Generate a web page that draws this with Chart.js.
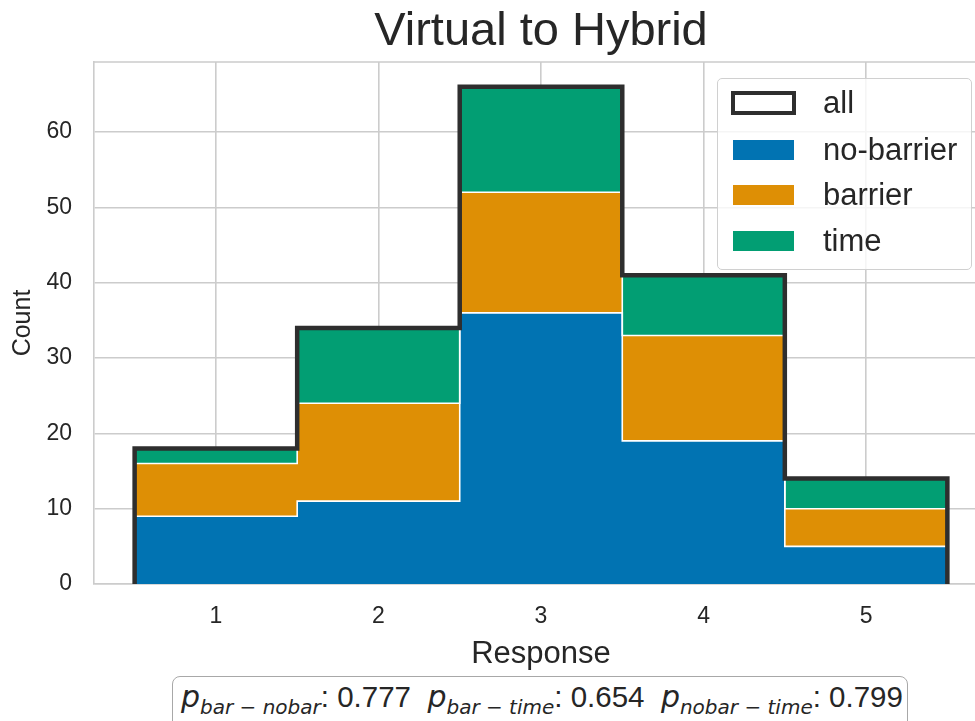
<!DOCTYPE html>
<html>
<head>
<meta charset="utf-8">
<title>Virtual to Hybrid</title>
<script src="https://cdn.jsdelivr.net/npm/chart.js@4.4.1/dist/chart.umd.min.js"></script>
<style>
    html, body { margin: 0 ; padding: 0 ; overflow: hidden ; background: #ffffff ; width: 975px ; height: 721px ; }
    #wrap { position: relative ; width: 1000px ; height: 721px ; }
    #histCanvas { position: absolute ; left: 0 ; top: 0 ; }
    .legend {
        position: absolute ; left: 717px ; top: 78px ; width: 255px ; height: 192px ;
        box-sizing: border-box ; border: 1.3px solid #d0d0d0 ; border-radius: 5px ;
        background: rgba(255,255,255,0.8) ;
        font-family: 'Liberation Sans', Arial, sans-serif ; font-size: 31px ; color: #262626 ;
    }
    .legend .patch { position: absolute ; left: 15px ; width: 61px ; height: 20px ; box-sizing: border-box ; }
    .legend .label { position: absolute ; left: 105px ; height: 40px ; line-height: 40px ; white-space: nowrap ; }
    .pbox {
        position: absolute ; left: 172px ; top: 676px ; width: 736px ; height: 60px ;
        box-sizing: border-box ; border: 1.5px solid #a8a8a8 ; border-radius: 8px ; background: #ffffff ;
        padding-left: 8px ; white-space: nowrap ; line-height: 40px ;
        font-family: 'Liberation Sans', Arial, sans-serif ; font-size: 29.5px ; color: #262626 ;
    }
    .pbox .p { font-family: 'DejaVu Sans', sans-serif ; font-style: italic ; font-size: 30px ; }
    .pbox .sub { font-family: 'DejaVu Sans', sans-serif ; font-style: italic ; font-size: 20px ; vertical-align: -7px ; }
</style>
</head>
<body>
<div id="wrap">
    <canvas id="histCanvas" width="1000" height="721"></canvas>
    <div class="legend" id="legend"></div>
    <div class="pbox" id="pbox"></div>
</div>
<script>
    // ---------------- Data -------------------------------------------------
    const responses  = [ 1, 2, 3, 4, 5 ] ;
    const noBarrier  = [ 9, 11, 36, 19, 5 ] ;
    const barrier    = [ 7, 13, 16, 14, 5 ] ;
    const timeCounts = [ 2, 10, 14,  8, 4 ] ;

    const seriesNames  = [ "no-barrier", "barrier", "time" ] ;
    const seriesColors = [ "#0173b2", "#de8f05", "#029e73" ] ;

    const yTicks = [ 0, 10, 20, 30, 40, 50, 60 ] ;

    const pLabels = [ "bar − nobar", "bar − time", "nobar − time" ] ;
    const pValues = [ "0.777", "0.654", "0.799" ] ;

    // ---------------- Constants --------------------------------------------
    const TEXT_COLOR = "#262626" ;
    const GRID_COLOR = "#cccccc" ;
    const FONT = "'Liberation Sans', Arial, sans-serif" ;

    // ---------------- Helpers ----------------------------------------------
    function cumulate( layers ) {
        var out = [] ;
        var run = responses.map( function() { return 0 ; } ) ;
        layers.forEach( function( layer ) {
            run = run.map( function( v, i ) { return v + layer[i] ; } ) ;
            out.push( run ) ;
        } ) ;
        return out ;
    }

    // step outline: left bin edges hold the value, closing back to zero
    function stepPoints( counts ) {
        var pts = [ { x: responses[0] - 0.5, y: 0 } ] ;
        for( var i = 0 ; i < responses.length ; i++ ) {
            pts.push( { x: responses[i] - 0.5, y: counts[i] } ) ;
        }
        pts.push( { x: responses[ responses.length - 1 ] + 0.5, y: 0 } ) ;
        return pts ;
    }

    const stacks = cumulate( [ noBarrier, barrier, timeCounts ] ) ;
    const totals = stacks[ stacks.length - 1 ] ;

    function getAllDataset() {
        return {
            label           : "all",
            data            : stepPoints( totals ),
            stepped         : true,
            borderColor     : "#2e2e2e",
            borderWidth     : 4.5,
            borderJoinStyle : "miter",
            pointRadius     : 0,
            fill            : false,
            order           : 0,
        } ;
    }

    function getLayerDataset( idx ) {
        return {
            label           : seriesNames[ idx ],
            data            : stepPoints( stacks[ idx ] ),
            stepped         : true,
            borderColor     : "#ffffff",
            borderWidth     : 1.6,
            backgroundColor : seriesColors[ idx ],
            pointRadius     : 0,
            fill            : idx == 0 ? "origin" : "-1",
            order           : 3 - idx,
        } ;
    }

    const topSpine = {
        id : "topSpine",
        beforeDatasetsDraw : function( chart ) {
            var ctx = chart.ctx ;
            var a = chart.chartArea ;
            ctx.save() ;
            ctx.strokeStyle = GRID_COLOR ;
            ctx.lineWidth = 1.6 ;
            ctx.beginPath() ;
            ctx.moveTo( a.left, a.top ) ;
            ctx.lineTo( a.right, a.top ) ;
            ctx.lineTo( a.right, a.bottom ) ;
            ctx.stroke() ;
            ctx.restore() ;
        }
    } ;

    const datasets = [ getLayerDataset( 0 ), getLayerDataset( 1 ), getLayerDataset( 2 ), getAllDataset() ] ;

    const yMax = Math.max.apply( null, totals ) * 1.05 ;

    new Chart( document.getElementById( "histCanvas" ), {
        type : "line",
        data : { datasets : datasets },
        plugins : [ topSpine ],
        options : {
            responsive : false,
            animation : false,
            events : [],
            layout : { padding : { top : 0, right : 12, bottom : 0, left : 0 } },
            plugins : {
                legend : { display : false },
                tooltip : { enabled : false },
                filler : { drawTime : "beforeDatasetsDraw" },
                title : {
                    display : true,
                    text : "Virtual to Hybrid",
                    fullSize : false,
                    color : TEXT_COLOR,
                    font : { family : FONT, size : 47, weight : "normal" },
                    padding : { top : 4, bottom : 1.6 }
                }
            },
            scales : {
                x : {
                    type : "linear",
                    min : responses[0] - 0.75,
                    max : responses[ responses.length - 1 ] + 0.75,
                    afterFit : function( scale ) { scale.height = 137 ; },
                    afterBuildTicks : function( scale ) {
                        scale.ticks = responses.map( function( v ) { return { value : v } ; } ) ;
                    },
                    ticks : {
                        color : TEXT_COLOR,
                        padding : 19,
                        font : { family : FONT, size : 23 }
                    },
                    grid : { color : GRID_COLOR, lineWidth : 1.6, drawTicks : false },
                    border : { color : GRID_COLOR, width : 1.6 },
                    title : {
                        display : true,
                        text : "Response",
                        color : TEXT_COLOR,
                        font : { family : FONT, size : 31 },
                        padding : { top : 0, bottom : 48 }
                    }
                },
                y : {
                    min : 0,
                    max : yMax,
                    afterFit : function( scale ) { scale.width = 94 ; },
                    afterBuildTicks : function( scale ) {
                        scale.ticks = yTicks.map( function( v ) { return { value : v } ; } ) ;
                    },
                    ticks : {
                        color : TEXT_COLOR,
                        padding : 22,
                        font : { family : FONT, size : 23 }
                    },
                    grid : { color : GRID_COLOR, lineWidth : 1.6, drawTicks : false },
                    border : { color : GRID_COLOR, width : 1.6 },
                    title : {
                        display : true,
                        text : "Count",
                        color : TEXT_COLOR,
                        font : { family : FONT, size : 25 },
                        padding : { top : 8, bottom : 0 }
                    }
                }
            }
        }
    } ) ;

    // ---------------- Legend -----------------------------------------------
    const legendRows = [ 24, 71, 116, 162 ] ;
    var legendHtml = '' ;
    legendHtml += '<div class="patch" style="border:4.5px solid #2e2e2e;background:#fff;left:12.75px;width:65.5px;height:24.5px;top:' + ( legendRows[0] - 12.25 ) + 'px"></div>' ;
    legendHtml += '<div class="label" style="top:' + ( legendRows[0] - 20 ) + 'px">all</div>' ;
    seriesNames.forEach( function( name, i ) {
        var c = legendRows[ i + 1 ] ;
        legendHtml += '<div class="patch" style="top:' + ( c - 10 ) + 'px;background:' + seriesColors[i] + '"></div>' ;
        legendHtml += '<div class="label" style="top:' + ( c - 20 ) + 'px">' + name + '</div>' ;
    } ) ;
    document.getElementById( "legend" ).innerHTML = legendHtml ;

    // ---------------- p-value box ------------------------------------------
    var pHtml = '' ;
    pLabels.forEach( function( lab, i ) {
        pHtml += '<span class="p">p</span><span class="sub">' + lab + '</span>: ' + pValues[i] ;
        if( i < pLabels.length - 1 ) { pHtml += '&nbsp; ' ; }
    } ) ;
    document.getElementById( "pbox" ).innerHTML = pHtml ;
</script>
</body>
</html>
